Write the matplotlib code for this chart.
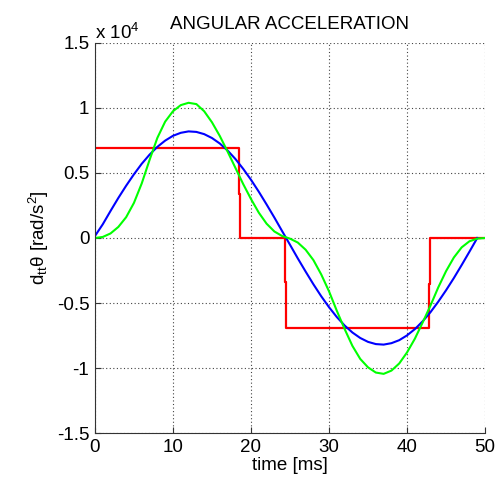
import matplotlib
matplotlib.use("Agg")
import matplotlib.pyplot as plt

plt.rcParams['font.family'] = ['Liberation Sans', 'DejaVu Sans']
plt.rcParams['mathtext.fontset'] = 'custom'
plt.rcParams['mathtext.rm'] = 'Liberation Sans'
plt.rcParams['mathtext.it'] = 'Liberation Sans'
plt.rcParams['axes.unicode_minus'] = False

# values in units of 1e4 rad/s^2, time in ms
t_blue = list(range(0, 50))
blue = [0.015, 0.105, 0.208, 0.308, 0.402, 0.490, 0.571, 0.641, 0.701, 0.749,
        0.786, 0.809, 0.820, 0.816, 0.799, 0.769, 0.727, 0.673, 0.608, 0.532,
        0.448, 0.356, 0.258, 0.157, 0.052, -0.052, -0.157, -0.258, -0.356, -0.448,
        -0.532, -0.608, -0.673, -0.727, -0.769, -0.799, -0.816, -0.820, -0.809, -0.786,
        -0.749, -0.701, -0.641, -0.571, -0.490, -0.402, -0.308, -0.208, -0.105, 0.0]

t_green = list(range(0, 51))
green = [0.0, 0.008, 0.035, 0.085, 0.16, 0.27, 0.42, 0.60, 0.77, 0.895,
         0.975, 1.022, 1.04, 1.03, 0.975, 0.89, 0.785, 0.665, 0.54, 0.415,
         0.30, 0.195, 0.11, 0.05, 0.015, -0.005, -0.035, -0.09, -0.17, -0.28,
         -0.41, -0.56, -0.70, -0.83, -0.93, -0.995, -1.035, -1.045, -1.02, -0.965,
         -0.88, -0.775, -0.65, -0.52, -0.38, -0.255, -0.15, -0.072, -0.025, -0.005, 0.0]

t_red = [0, 18.4, 18.4, 18.6, 18.6, 24.36, 24.36, 24.5, 24.5, 42.86, 42.86, 42.95, 42.95, 50]
red = [0.69, 0.69, 0.34, 0.34, 0, 0, -0.34, -0.34, -0.69, -0.69, -0.356, -0.356, 0, 0]

xticks = [0, 10, 20, 30, 40, 50]
yticks = [-1.5, -1, -0.5, 0, 0.5, 1, 1.5]
ylabels = ['-1.5', '-1', '-0.5', '0', '0.5', '1', '1.5']

fs = 13.5

fig = plt.figure(figsize=(4.97, 4.83), dpi=100)
ax = fig.add_axes([0.191, 0.1035, 0.785, 0.8075])

ax.plot(t_red, red, color='#ff0000', lw=1.6)
ax.plot(t_blue, blue, color='#0000ff', lw=1.5)
ax.plot(t_green, green, color='#00ff00', lw=1.5)

ax.set_xlim(0, 50)
ax.set_ylim(-1.5, 1.5)
ax.set_xticks(xticks)
ax.set_yticks(yticks)
ax.set_yticklabels(ylabels)
ax.grid(True, linestyle=(0, (1, 2.2)), color='#444444', lw=0.8)
for s in ['top', 'right']:
    ax.spines[s].set_visible(False)
for s in ['left', 'bottom']:
    ax.spines[s].set_color('#333333')
    ax.spines[s].set_linewidth(0.8)
ax.tick_params(direction='in', length=4, labelsize=fs, colors='#333333',
               labelcolor='black')
ax.tick_params(axis='x', pad=4)
ax.tick_params(axis='y', pad=4)

ax.text(0.0, 1.0, 'x 10$^4$', transform=ax.transAxes, fontsize=fs,
        ha='left', va='bottom')
ax.set_title('ANGULAR ACCELERATION', fontsize=fs, pad=10)
ax.set_xlabel('time [ms]', fontsize=fs, labelpad=1)
ax.set_ylabel('d$_{tt}$θ [rad/s$^2$]', fontsize=fs, labelpad=4)

fig.savefig('out.png', dpi=100)
